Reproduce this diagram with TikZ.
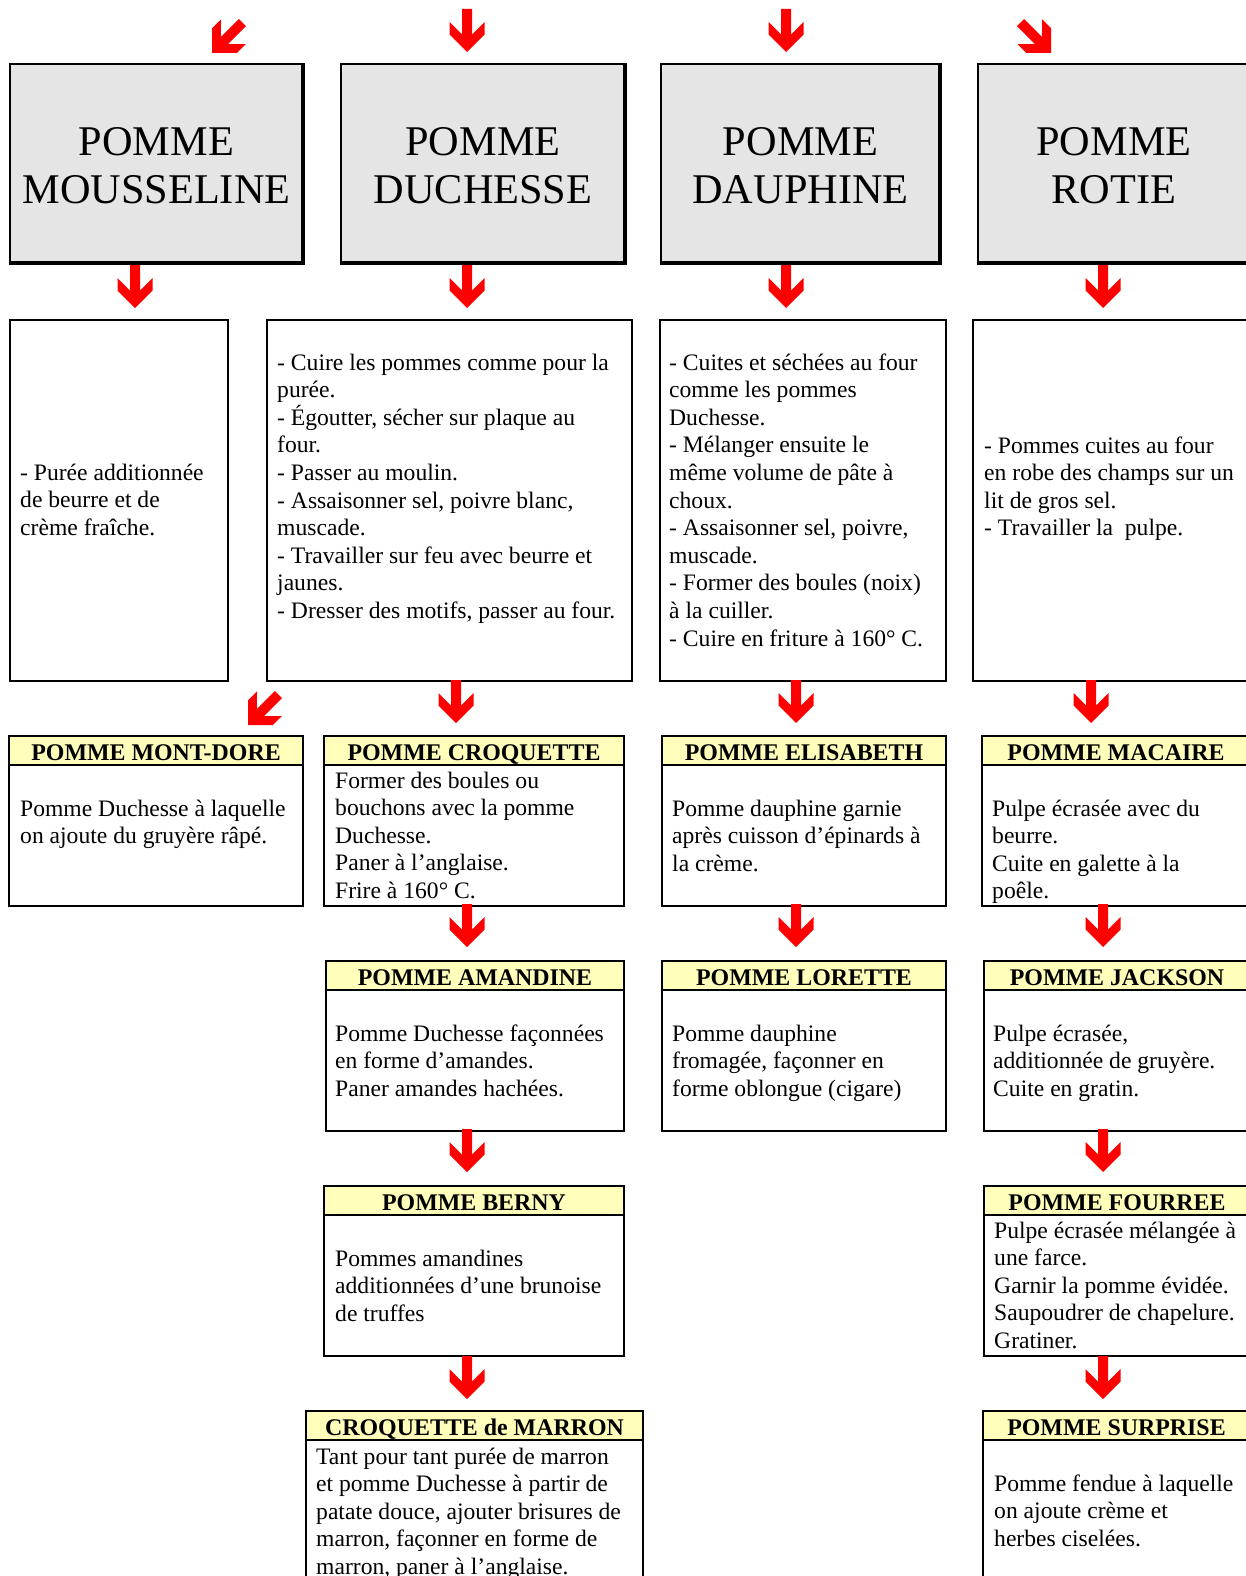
\documentclass[tikz,border=0pt]{standalone}
\usepackage{fontspec}
\setmainfont{Liberation Serif}
\definecolor{boxgray}{RGB}{229,229,229}
\definecolor{hdyellow}{RGB}{255,255,187}
\definecolor{arrowred}{RGB}{255,0,0}
\tikzset{
  thinline/.style={draw=black,line width=2pt},
  thickline/.style={draw=black,line width=4pt},
  boxline/.style={draw=black,line width=2pt},
  bigtext/.style={font=\fontsize{42.3}{48}\selectfont,align=flush center,text width=320pt,inner sep=0pt,anchor=base},
  bodytext/.style={font=\fontsize{23.6}{27.6}\selectfont,align=flush left,text width=420pt,inner sep=0pt,anchor=base west},
  hdtext/.style={font=\fontsize{23.9}{27.6}\selectfont\bfseries,inner sep=0pt,anchor=base},
  redarrow/.pic={\fill[arrowred] (-5,-43) -- (5,-43) -- (5,-17.5) -- (17.5,-30) -- (17.5,-17.5) -- (0,0) -- (-17.5,-17.5) -- (-17.5,-30) -- (-5,-17.5) -- cycle;}
}
\newcommand\graycard[6]{% name x1 y1 x2 y2 text
  \fill[boxgray] (#2,#3) rectangle (#4,#5);
  \draw[thinline] (#4,#3) -- (#2,#3) -- (#2,#5);
  \draw[thickline] (#2-1,#5) -- (#4,#5) -- (#4,#3-1);
  \node[bigtext] (#1) at ({(#2+#4)/2},155) {#6};
}
\newcommand\dishcard[6]{% name x1 y1 x2 y2 title
  \fill[hdyellow] (#2,#3) rectangle (#4,#3+29);
  \draw[boxline] (#2,#3) rectangle (#4,#5);
  \draw[boxline] (#2,#3+29) -- (#4,#3+29);
  \node[hdtext] (#1) at ({(#2+#4)/2},#3+24) {#6};
}
\begin{document}
\begin{tikzpicture}[x=1pt,y=-1pt]
\useasboundingbox (0,0) rectangle (1246,1576);
\fill[white] (0,0) rectangle (1246,1576);

% top arrows
\pic[rotate=-45] at (212,53) {redarrow};
\pic at (467,52) {redarrow};
\pic at (786,52) {redarrow};
\pic[rotate=45] at (1051,53) {redarrow};

% gray cards
\graycard{g1}{10}{64}{303}{263}{POMME\\MOUSSELINE}
\graycard{g2}{341}{64}{625}{263}{POMME\\DUCHESSE}
\graycard{g3}{661}{64}{940}{263}{POMME\\DAUPHINE}
\graycard{g4}{978}{64}{1250}{263}{POMME\\ROTIE}

% arrows gray -> row 2
\pic at (135,308) {redarrow};
\pic at (467,308) {redarrow};
\pic at (786,308) {redarrow};
\pic at (1103,308) {redarrow};

% row 2 boxes
\draw[boxline] (10,320) rectangle (228,681);
\draw[boxline] (267,320) rectangle (632,681);
\draw[boxline] (660,320) rectangle (946,681);
\draw[boxline] (973,320) rectangle (1256,681);
\node[bodytext] (ta) at (20,480) {- Purée additionnée\\de beurre et de\\crème fraîche.};
\node[bodytext] (tb) at (277,370) {- Cuire les pommes comme pour la\\purée.\\- Égoutter, sécher sur plaque au\\four.\\- Passer au moulin.\\- Assaisonner sel, poivre blanc,\\muscade.\\- Travailler sur feu avec beurre et\\jaunes.\\- Dresser des motifs, passer au four.};
\node[bodytext] (tc) at (669,370) {- Cuites et séchées au four\\comme les pommes\\Duchesse.\\- Mélanger ensuite le\\même volume de pâte à\\choux.\\- Assaisonner sel, poivre,\\muscade.\\- Former des boules (noix)\\à la cuiller.\\- Cuire en friture à 160° C.};
\node[bodytext] (td) at (984,453) {- Pommes cuites au four\\en robe des champs sur un\\lit de gros sel.\\- Travailler la\ \ pulpe.};

% arrows row 2 -> row 3
\pic[rotate=-45] at (248,725) {redarrow};
\pic at (456,723) {redarrow};
\pic at (796,723) {redarrow};
\pic at (1091,723) {redarrow};

% row 3
\dishcard{h1}{9}{736}{303}{906}{POMME MONT-DORE}
\dishcard{h2}{324}{736}{624}{906}{POMME CROQUETTE}
\dishcard{h3}{662}{736}{946}{906}{POMME ELISABETH}
\dishcard{h4}{982}{736}{1250}{906}{POMME MACAIRE}
\node[bodytext] (b1) at (20,816) {Pomme Duchesse à laquelle\\on ajoute du gruyère râpé.};
\node[bodytext] (b2) at (335,788) {Former des boules ou\\bouchons avec la pomme\\Duchesse.\\Paner à l’anglaise.\\Frire à 160° C.};
\node[bodytext] (b3) at (672,816) {Pomme dauphine garnie\\après cuisson d’épinards à\\la crème.};
\node[bodytext] (b4) at (992,816) {Pulpe écrasée avec du\\beurre.\\Cuite en galette à la\\poêle.};

% arrows row 3 -> row 4
\pic at (467,947) {redarrow};
\pic at (796,947) {redarrow};
\pic at (1103,947) {redarrow};

% row 4
\dishcard{h5}{326}{961}{624}{1131}{POMME AMANDINE}
\dishcard{h6}{662}{961}{946}{1131}{POMME LORETTE}
\dishcard{h7}{984}{961}{1250}{1131}{POMME JACKSON}
\node[bodytext] (b5) at (335,1041) {Pomme Duchesse façonnées\\en forme d’amandes.\\Paner amandes hachées.};
\node[bodytext] (b6) at (672,1041) {Pomme dauphine\\fromagée, façonner en\\forme oblongue (cigare)};
\node[bodytext] (b7) at (993,1041) {Pulpe écrasée,\\additionnée de gruyère.\\Cuite en gratin.};

% arrows row 4 -> row 5
\pic at (467,1172) {redarrow};
\pic at (1103,1172) {redarrow};

% row 5
\dishcard{h8}{324}{1186}{624}{1356}{POMME BERNY}
\dishcard{h9}{984}{1186}{1250}{1356}{POMME FOURREE}
\node[bodytext] (b8) at (335,1266) {Pommes amandines\\additionnées d’une brunoise\\de truffes};
\node[bodytext] (b9) at (994,1238) {Pulpe écrasée mélangée à\\une farce.\\Garnir la pomme évidée.\\Saupoudrer de chapelure.\\Gratiner.};

% arrows row 5 -> row 6
\pic at (467,1399) {redarrow};
\pic at (1103,1399) {redarrow};

% row 6
\dishcard{h10}{306}{1411}{643}{1590}{CROQUETTE de MARRON}
\dishcard{h11}{983}{1411}{1250}{1590}{POMME SURPRISE}
\node[bodytext] (b10) at (316,1464) {Tant pour tant purée de marron\\et pomme Duchesse à partir de\\patate douce, ajouter brisures de\\marron, façonner en forme de\\marron, paner à l’anglaise.};
\node[bodytext] (b11) at (994,1491) {Pomme fendue à laquelle\\on ajoute crème et\\herbes ciselées.};
\end{tikzpicture}
\end{document}
